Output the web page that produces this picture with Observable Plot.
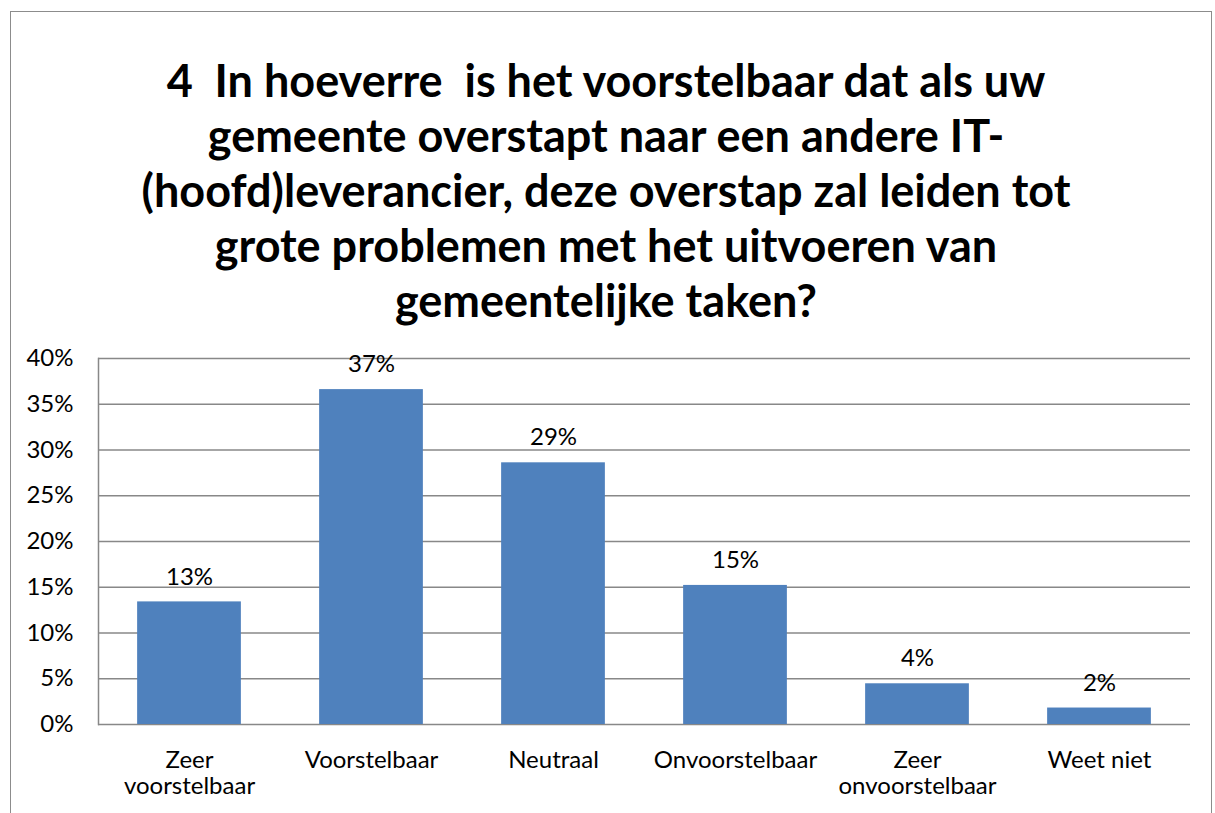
<!DOCTYPE html>
<html>
<head>
<meta charset="utf-8">
<script src="https://cdn.jsdelivr.net/npm/d3@7"></script>
<script src="https://cdn.jsdelivr.net/npm/@observablehq/plot@0.6"></script>
<style>
  html, body { margin: 0; padding: 0; background: #fff; }
  #wrap { position: relative; width: 1215px; height: 813px; overflow: hidden; font-family: Lato, "Open Sans", sans-serif; }
  #frame { position: absolute; left: 10px; top: 11px; width: 1202px; height: 900px; border: 1.5px solid #8c8c8c; box-sizing: border-box; }
  #title { position: absolute; left: 56px; width: 1100px; top: 53px; text-align: center; font-weight: bold; font-size: 45px; line-height: 55px; color: #000; }
  #chart { position: absolute; left: 0; top: 330px; }
</style>
</head>
<body>
<div id="wrap">
  <div id="frame"></div>
  <div id="title">4&nbsp; In hoeverre&nbsp; is het voorstelbaar dat als uw<br>gemeente overstapt naar een andere IT-<br>(hoofd)leverancier, deze overstap zal leiden tot<br>grote problemen met het uitvoeren van<br>gemeentelijke taken?</div>
  <div id="chart"></div>
</div>
<script>
const categories = ["Zeer\nvoorstelbaar", "Voorstelbaar", "Neutraal", "Onvoorstelbaar", "Zeer\nonvoorstelbaar", "Weet niet"];
const values = [0.134, 0.366, 0.286, 0.152, 0.0445, 0.018];
const yTicks = [0, 0.05, 0.10, 0.15, 0.20, 0.25, 0.30, 0.35, 0.40];

const data = categories.map((c, i) => ({cat: c, v: values[i]}));
const pct = d3.format(".0%");

const chart = Plot.plot({
  width: 1215,
  height: 483,
  marginLeft: 98,
  marginRight: 25,
  marginTop: 28,
  marginBottom: 89,
  style: {fontFamily: "Lato, 'Open Sans', sans-serif", fontSize: "24px", color: "#000", background: "transparent"},
  x: {domain: categories, paddingInner: 0.43, paddingOuter: 0.215, round: false, label: null},
  y: {domain: [0, 0.4], label: null},
  marks: [
    Plot.gridY(yTicks, {stroke: "#888", strokeOpacity: 1, strokeWidth: 1.5}),
    Plot.frame({anchor: "left", stroke: "#888", strokeWidth: 1.5}),
    Plot.axisY(yTicks, {tickFormat: pct, tickSize: 0, tickPadding: 25, fontSize: 24, fill: "#000"}),
    Plot.axisX({tickSize: 0, tickPadding: 24, fontSize: 24, lineHeight: 1.12, fill: "#000"}),
    Plot.barY(data, {x: "cat", y: "v", fill: "#4F81BD"}),
    Plot.text(data, {x: "cat", y: "v", text: d => pct(d.v), dy: -25, fontSize: 24, fill: "#000"})
  ]
});
document.getElementById("chart").appendChild(chart);
</script>
</body>
</html>
